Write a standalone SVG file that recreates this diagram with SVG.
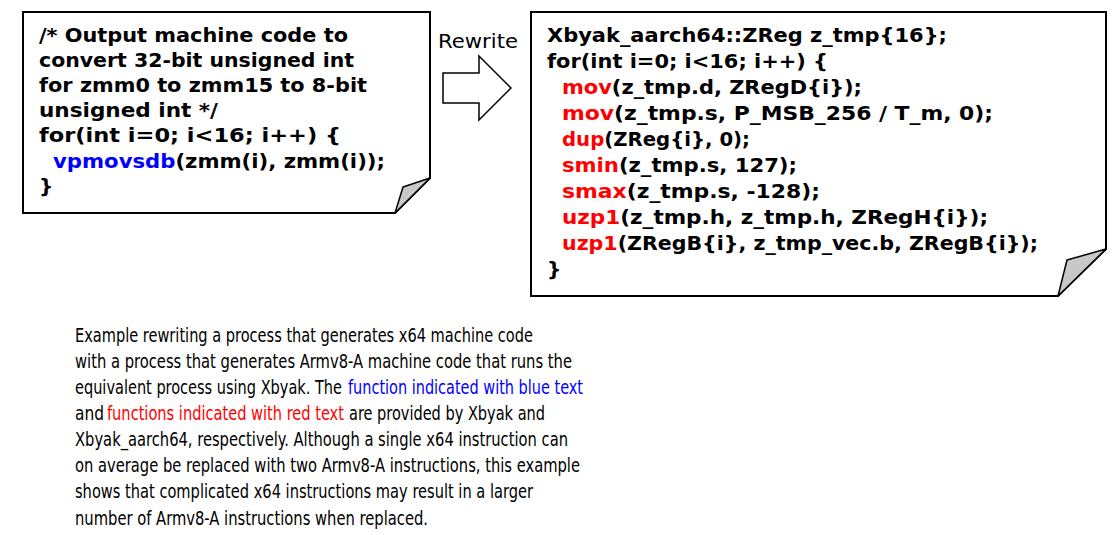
<svg xmlns="http://www.w3.org/2000/svg" width="1119" height="535" viewBox="0 0 1119 535">
<style>
.box{fill:#fff;stroke:#000;stroke-width:2}
.fold{fill:#c8c8c8;stroke:#000;stroke-width:1.5;stroke-linejoin:round}
.code{font-family:"DejaVu Sans","Verdana",sans-serif;font-weight:bold;font-size:20px;fill:#000}
.para{font-family:"DejaVu Sans","Verdana",sans-serif;font-stretch:condensed;font-size:14.5px;fill:#000}
.lbl{font-family:"DejaVu Sans","Verdana",sans-serif;font-size:19px;fill:#000}
.b{fill:#0000ff}
.r{fill:#ff0000}
.arrow{fill:#fff;stroke:#000;stroke-width:1.5;stroke-linejoin:miter}
</style>
<rect width="1119" height="535" fill="#fff"/>
<g id="node-x64">
<path class="box" d="M23,12 H430 V178 L395,213 H23 Z"/>
<path class="fold" d="M395,213 L403,187 L430,178 Z"/>
<text class="code" x="39" y="42" textLength="309" lengthAdjust="spacingAndGlyphs">/* Output machine code to</text>
<text class="code" x="39" y="67" textLength="315" lengthAdjust="spacingAndGlyphs">convert 32-bit unsigned int</text>
<text class="code" x="39" y="92" textLength="328" lengthAdjust="spacingAndGlyphs">for zmm0 to zmm15 to 8-bit</text>
<text class="code" x="39" y="117" textLength="179" lengthAdjust="spacingAndGlyphs">unsigned int */</text>
<text class="code" x="39" y="142" textLength="302" lengthAdjust="spacingAndGlyphs">for(int i=0; i&lt;16; i++) {</text>
<text class="code" x="53" y="168" textLength="332" lengthAdjust="spacingAndGlyphs"><tspan class="b">vpmovsdb</tspan>(zmm(i), zmm(i));</text>
<text class="code" x="39" y="193">}</text>
</g>
<g id="node-aarch64">
<path class="box" d="M531,12 H1106 V249 L1058,296 H531 Z"/>
<path class="fold" d="M1058,296 L1067,260 L1106,249 Z"/>
<text class="code" x="547" y="42" textLength="400" lengthAdjust="spacingAndGlyphs">Xbyak_aarch64::ZReg z_tmp{16};</text>
<text class="code" x="547" y="68" textLength="281" lengthAdjust="spacingAndGlyphs">for(int i=0; i&lt;16; i++) {</text>
<text class="code" x="562" y="94" textLength="300" lengthAdjust="spacingAndGlyphs"><tspan class="r">mov</tspan>(z_tmp.d, ZRegD{i});</text>
<text class="code" x="562" y="120" textLength="431" lengthAdjust="spacingAndGlyphs"><tspan class="r">mov</tspan>(z_tmp.s, P_MSB_256 / T_m, 0);</text>
<text class="code" x="562" y="146" textLength="188" lengthAdjust="spacingAndGlyphs"><tspan class="r">dup</tspan>(ZReg{i}, 0);</text>
<text class="code" x="562" y="172" textLength="235" lengthAdjust="spacingAndGlyphs"><tspan class="r">smin</tspan>(z_tmp.s, 127);</text>
<text class="code" x="562" y="198" textLength="258" lengthAdjust="spacingAndGlyphs"><tspan class="r">smax</tspan>(z_tmp.s, -128);</text>
<text class="code" x="562" y="224" textLength="426" lengthAdjust="spacingAndGlyphs"><tspan class="r">uzp1</tspan>(z_tmp.h, z_tmp.h, ZRegH{i});</text>
<text class="code" x="562" y="250" textLength="476" lengthAdjust="spacingAndGlyphs"><tspan class="r">uzp1</tspan>(ZRegB{i}, z_tmp_vec.b, ZRegB{i});</text>
<text class="code" x="547" y="276">}</text>
</g>
<g id="connectors">
<path class="arrow" d="M443,73 H479 V56 L511,88 L479,120 V103 H443 Z"/>
<text class="lbl" x="438" y="48" textLength="80" lengthAdjust="spacingAndGlyphs">Rewrite</text>
</g>
<g id="caption" transform="scale(1,1.4)">
<text class="para" x="75" y="244.3" textLength="458" lengthAdjust="spacingAndGlyphs">Example rewriting a process that generates x64 machine code</text>
<text class="para" x="75" y="262.9" textLength="497" lengthAdjust="spacingAndGlyphs">with a process that generates Armv8-A machine code that runs the</text>
<text class="para" x="75" y="281.4" textLength="267" lengthAdjust="spacingAndGlyphs">equivalent process using Xbyak. The</text>
<text class="para b" x="348" y="281.4" textLength="235" lengthAdjust="spacingAndGlyphs">function indicated with blue text</text>
<text class="para" x="75" y="300" textLength="29" lengthAdjust="spacingAndGlyphs">and</text>
<text class="para r" x="107" y="300" textLength="237" lengthAdjust="spacingAndGlyphs">functions indicated with red text</text>
<text class="para" x="349" y="300" textLength="196" lengthAdjust="spacingAndGlyphs">are provided by Xbyak and</text>
<text class="para" x="75" y="318.6" textLength="493" lengthAdjust="spacingAndGlyphs">Xbyak_aarch64, respectively. Although a single x64 instruction can</text>
<text class="para" x="75" y="337.1" textLength="505" lengthAdjust="spacingAndGlyphs">on average be replaced with two Armv8-A instructions, this example</text>
<text class="para" x="75" y="355.7" textLength="458" lengthAdjust="spacingAndGlyphs">shows that complicated x64 instructions may result in a larger</text>
<text class="para" x="75" y="375" textLength="353" lengthAdjust="spacingAndGlyphs">number of Armv8-A instructions when replaced.</text>
</g>
</svg>
